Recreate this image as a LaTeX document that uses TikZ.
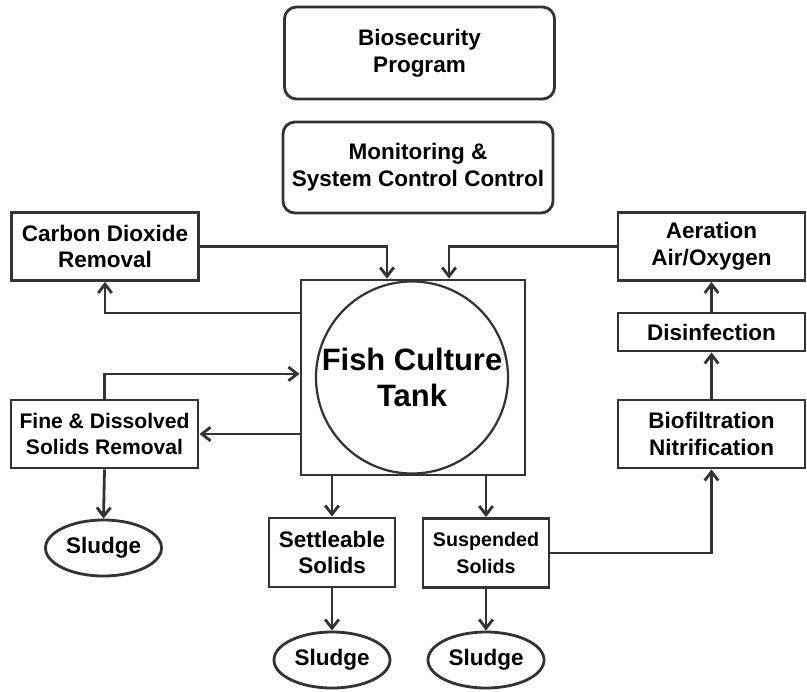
\documentclass[tikz,border=0pt]{standalone}
\usepackage{fontspec}
\setmainfont{Liberation Sans}
\usetikzlibrary{shapes.geometric,arrows.meta,calc}

\begin{document}
\begin{tikzpicture}[x=0.025cm,y=-0.025cm,line width=2pt,draw=black!80,
    font=\bfseries\fontsize{16}{19}\selectfont,
    box/.style={draw,align=center,inner sep=0pt,minimum width=4.675cm,minimum height=1.7cm},
    rbox/.style={box,rounded corners=0.3cm,minimum width=6.75cm,minimum height=2.3cm},
    sbox/.style={box,minimum width=3.15cm,minimum height=1.725cm},
    sludge/.style={draw,ellipse,inner sep=0pt,minimum width=2.9cm,minimum height=1.4cm},
    arr/.style={-{Straight Barb[length=2.2mm,width=3.4mm]}}]
  \useasboundingbox (0,0) rectangle (807,691);
  \node[rbox] (bio) at (419.5,53) {Biosecurity\\Program};
  \node[rbox,minimum height=2.275cm] (mon) at (418,167.5) {Monitoring \&\\System Control Control};
  \node[box] (co2) at (105,246.5) {Carbon Dioxide\\Removal};
  \node[box,font=\bfseries\fontsize{15}{19}\selectfont] (fine) at (104.5,434) {Fine \& Dissolved\\Solids Removal};
  \node[box] (aer) at (711.5,246.5) {Aeration\\Air/Oxygen};
  \node[box,minimum height=0.95cm] (dis) at (711.5,332) {Disinfection};
  \node[box] (biof) at (711.5,434) {Biofiltration\\Nitrification};
  \node[draw,inner sep=0pt,minimum width=5.6cm,minimum height=4.875cm] (tank) at (413,377.5) {};
  \node[draw,circle,line width=1.6pt,inner sep=0pt,minimum size=4.8cm,align=center,
    font=\bfseries\fontsize{22}{26}\selectfont] (fish) at (412,377.5) {Fish Culture\\Tank};
  \node[sbox] (settle) at (332,552.5) {Settleable\\Solids};
  \node[sbox,font=\bfseries\fontsize{14}{19}\selectfont] (susp) at (486,553) {Suspended\\Solids};
  \foreach \n/\x/\y in {1/103.5/548, 2/332/660, 3/486/660} {
    \node[sludge] (sl\n) at (\x,\y) {Sludge};
  }
  \draw[arr] (co2.east) -| ([xshift=-0.65cm]tank.north);
  \draw[arr] (aer.west) -| ([xshift=0.9cm]tank.north);
  \draw[arr] ([yshift=1.61cm]tank.west) -| (co2.south);
  \draw[arr] (fine.north) |- ([yshift=0.09cm]tank.west);
  \draw[arr] (tank.west |- fine.east) -- (fine.east);
  \draw[arr] (settle.north |- tank.south) -- (settle.north);
  \draw[arr] (susp.north |- tank.south) -- (susp.north);
  \foreach \a/\b in {fine/sl1, settle/sl2, susp/sl3} {
    \draw[arr] (\a.south) -- (\b.north);
  }
  \draw[arr] (susp.east) -| (biof.south);
  \foreach \a/\b in {biof/dis, dis/aer} {
    \draw[arr] (\a.north) -- (\b.south);
  }
\end{tikzpicture}
\end{document}
